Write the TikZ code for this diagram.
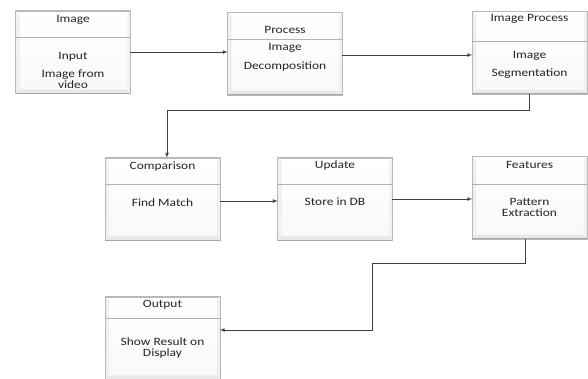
\documentclass[tikz,border=0pt]{standalone}
\usepackage{fontspec}
\setmainfont{Carlito}[FakeStretch=1.2]
\usepackage{tikz}
\usetikzlibrary{arrows,positioning}

\tikzset{
  stagebox/.style={draw=gray!55, line width=0.6pt, top color=white, bottom color=gray!5,
    minimum width=114pt, minimum height=82pt, inner sep=0pt},
  stagetext/.style={font=\fontsize{11.2}{11}\selectfont, text=black!85, align=center, inner sep=0pt},
  divider/.style={draw=gray!60, line width=0.6pt},
  flow/.style={draw=black!75, line width=0.7pt, -latex},
}

% #1 name, #2 centre, #3 title offset, #4 divider offset, #5 body offset, #6 title, #7 body
\newcommand{\stage}[7]{%
  \node[stagebox] (#1) at #2 {};
  \fill[gray!12] (#1.north west) -- ([xshift=4pt,yshift=-4pt]#1.north west)
    -- ([xshift=4pt,yshift=4pt]#1.south west) -- (#1.south west) -- cycle;
  \fill[gray!18] (#1.south west) -- ([xshift=4pt,yshift=4pt]#1.south west)
    -- ([xshift=-3pt,yshift=4pt]#1.south east) -- (#1.south east) -- cycle;
  \fill[gray!12] (#1.north east) -- ([xshift=-3pt,yshift=-3pt]#1.north east)
    -- ([xshift=-3pt,yshift=4pt]#1.south east) -- (#1.south east) -- cycle;
  \draw[gray!55, line width=0.6pt] (#1.north west) rectangle (#1.south east);
  \draw[gray!70, line width=0.8pt] (#1.south west) -- (#1.south east);
  \draw[divider] ([yshift=-#4]#1.north west) -- ([yshift=-#4]#1.north east);
  \node[stagetext] (#1-title) at ([yshift=-#3]#1.north) {#6};
  \node[stagetext] (#1-body) at ([yshift=-#5]#1.north) {#7};
}

\begin{document}
\begin{tikzpicture}[x=1pt, y=1pt]
  \useasboundingbox[fill=white] (0,0) rectangle (588,-378);

  % first row
  \stage{img}{(73,-52)}{9pt}{27pt}{60pt}{Image}{Input\\[7pt]Image from\\video}
  \stage{proc}{(285,-53.5)}{18pt}{27pt}{45.5pt}{Process}{Image\\[8pt]Decomposition}
  \stage{seg}{(529.5,-52.5)}{8pt}{30pt}{54pt}{Image Process}{Image\\[7pt]Segmentation}

  % second row
  \stage{cmp}{(162.5,-199)}{9pt}{27pt}{45pt}{Comparison}{Find Match}
  \stage{upd}{(335,-199)}{8pt}{27pt}{44pt}{Update}{Store in DB}
  \stage{feat}{(529.5,-197.5)}{9pt}{28pt}{51.5pt}{Features}{Pattern\\Extraction}

  % last row
  \stage{out}{(162.5,-338)}{8pt}{22pt}{51.5pt}{Output}{Show Result on\\Display}

  \path
  (img.east) edge[flow] (img.east -| proc.west)
  ([yshift=-1.5pt]proc.east) edge[flow] ([yshift=-1.5pt]proc.east -| seg.west)
  ([yshift=-2pt]cmp.east) edge[flow] ([yshift=-2pt]cmp.east -| upd.west)
  (upd.east) edge[flow] (upd.east -| feat.west)
  ;
  \draw[flow] (seg.south) -- ++(0,-17) -| ([xshift=4.5pt]cmp.north);
  \draw[flow] ([xshift=-4.5pt]feat.south) -- ++(0,-25) -- ++(-153,0) |- ([yshift=8pt]out.east);
\end{tikzpicture}
\end{document}
